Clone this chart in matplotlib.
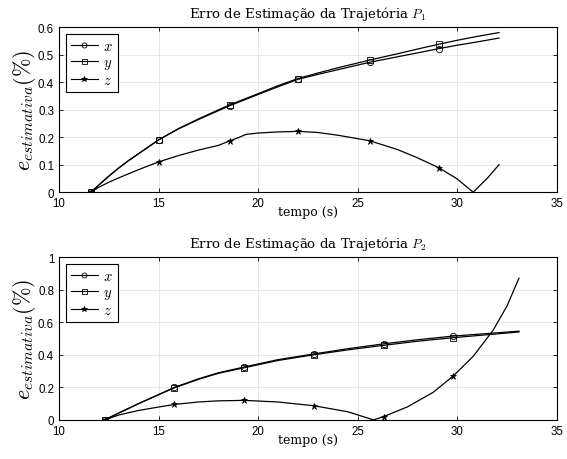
import matplotlib
matplotlib.use('Agg')
import matplotlib.pyplot as plt
import numpy as np

plt.rcParams['mathtext.fontset'] = 'cm'
plt.rcParams['font.family'] = 'Liberation Sans'

# Trajetoria P1
t1 = [11.6, 12.0, 12.5, 13.0, 13.5, 14.0, 14.5, 15.0, 16.0, 17.0, 18.0, 18.6, 20.0, 21.0, 22.0,
      23.0, 24.0, 25.6, 27.0, 28.0, 29.1, 30.0, 31.0, 32.1]
x1 = [0.0, 0.026, 0.058, 0.088, 0.115, 0.14, 0.165, 0.19, 0.23, 0.264, 0.296, 0.315, 0.355, 0.383, 0.41,
      0.428, 0.445, 0.472, 0.492, 0.506, 0.522, 0.534, 0.546, 0.56]
y1 = [0.0, 0.026, 0.058, 0.088, 0.115, 0.14, 0.165, 0.19, 0.231, 0.266, 0.299, 0.318, 0.358, 0.387, 0.413,
      0.433, 0.452, 0.48, 0.503, 0.52, 0.538, 0.552, 0.566, 0.58]
tz1 = [11.6, 12.0, 12.5, 13.0, 14.0, 15.0, 16.0, 17.0, 18.0, 18.6, 19.0, 19.4, 20.0, 21.0, 22.0,
       23.0, 24.0, 25.6, 27.0, 28.0, 29.1, 30.0, 30.8, 31.5, 32.1]
z1 = [0.0, 0.018, 0.036, 0.052, 0.082, 0.11, 0.133, 0.153, 0.17, 0.187, 0.198, 0.21, 0.215, 0.219, 0.221,
      0.217, 0.207, 0.187, 0.155, 0.125, 0.088, 0.048, 0.0, 0.05, 0.1]
mk1 = [0, 7, 11, 14, 17, 20]
mkz1 = [0, 5, 9, 14, 17, 20]

# Trajetoria P2
t2 = [12.3, 13.0, 14.0, 15.0, 15.8, 17.0, 18.0, 19.3, 21.0, 22.8, 24.5, 26.3, 28.0, 29.8, 31.5, 33.1]
x2 = [0.0, 0.042, 0.1, 0.155, 0.2, 0.252, 0.289, 0.325, 0.37, 0.405, 0.437, 0.467, 0.492, 0.515, 0.53, 0.545]
y2 = [0.0, 0.042, 0.1, 0.155, 0.197, 0.249, 0.286, 0.32, 0.365, 0.4, 0.43, 0.458, 0.483, 0.505, 0.523, 0.54]
tz2 = [12.3, 13.0, 14.0, 15.0, 15.8, 17.0, 18.0, 19.3, 21.0, 22.8, 24.5, 25.8, 26.3, 27.5, 28.8,
       29.8, 30.8, 31.8, 32.5, 33.1]
z2 = [0.0, 0.03, 0.058, 0.079, 0.095, 0.11, 0.117, 0.12, 0.11, 0.087, 0.05, 0.0, 0.02, 0.08, 0.17,
      0.27, 0.39, 0.55, 0.7, 0.87]
mk2 = [0, 4, 7, 9, 11, 13]
mkz2 = [0, 4, 7, 9, 12, 15]

titles = [r'Erro de Estimação da Trajetória $P_1$', r'Erro de Estimação da Trajetória $P_2$']
serif = 'DejaVu Serif'

fig = plt.figure(figsize=(5.67, 4.6), dpi=100)
ax1 = fig.add_axes([0.104, 0.580, 0.878, 0.359])
ax2 = fig.add_axes([0.104, 0.085, 0.878, 0.354])

datasets = [
    (ax1, t1, x1, y1, tz1, z1, mk1, mkz1, 0.6, np.arange(0, 0.61, 0.1)),
    (ax2, t2, x2, y2, tz2, z2, mk2, mkz2, 1.0, np.arange(0, 1.01, 0.2)),
]

for i, (ax, t, xs, ys, tz, zs, mk, mkz, ymax, yt) in enumerate(datasets):
    ax.plot(t, xs, color='k', lw=0.9, marker='o', ms=4.5, mfc='none', mec='k', mew=0.6,
            markevery=mk, label='$x$')
    ax.plot(t, ys, color='k', lw=0.9, marker='s', ms=4.5, mfc='none', mec='k', mew=0.6,
            markevery=mk, label='$y$')
    ax.plot(tz, zs, color='k', lw=0.9, marker='*', ms=5, mfc='k', mec='k', mew=0.5,
            markevery=mkz, label='$z$')
    ax.set_xlim(10, 35)
    ax.set_ylim(0, ymax)
    ax.set_xticks([10, 15, 20, 25, 30, 35])
    ax.set_yticks(yt)
    ax.set_yticklabels(['0' if v == 0 else ('1' if abs(v - 1) < 1e-9 else f'{v:.1f}') for v in yt])
    ax.grid(True, color='#e3e3e3', lw=0.6)
    ax.set_axisbelow(True)
    ax.tick_params(direction='in', top=True, right=True, labelsize=8.3, length=3, width=0.6)
    for s in ax.spines.values():
        s.set_linewidth(0.8)
    ax.set_title(titles[i], fontsize=9.6, family=serif, pad=7)
    ax.set_xlabel('tempo (s)', fontsize=9, family=serif, labelpad=-3)
    ax.set_ylabel(r'$e_{estimativa}(\%)$', fontsize=16, labelpad=0)
    leg = ax.legend(loc='upper left', fontsize=10.5, handlelength=1.9, handletextpad=0.3,
                    borderpad=0.35, labelspacing=0.15, fancybox=False, framealpha=1,
                    edgecolor='k', borderaxespad=0.45, markerscale=0.8)
    leg.get_frame().set_linewidth(0.8)
    for ln in leg.get_lines():
        ln.set_linewidth(0.8)

fig.savefig('out.png', dpi=100)
